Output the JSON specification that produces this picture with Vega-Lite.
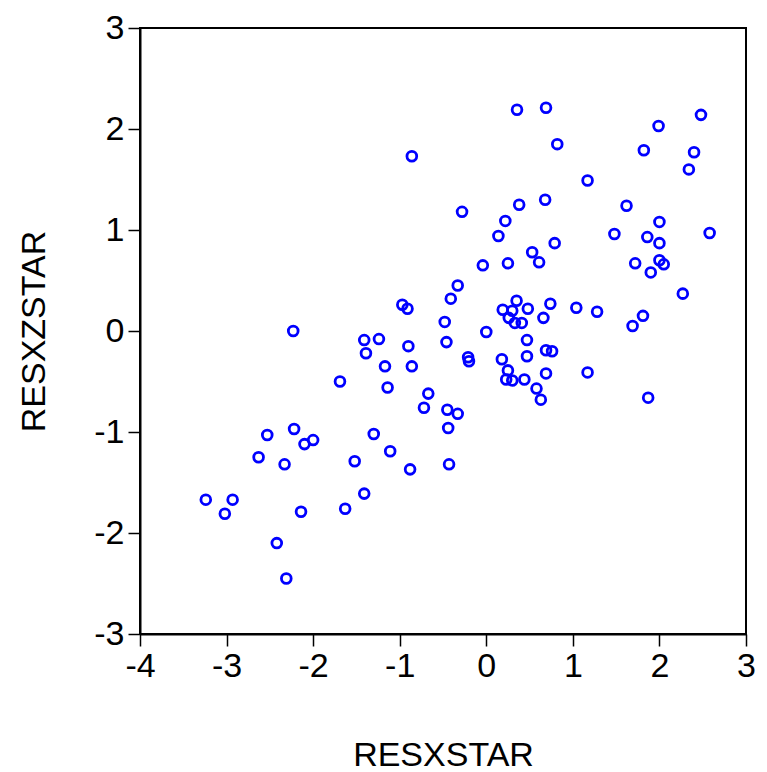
{
  "$schema": "https://vega.github.io/schema/vega-lite/v6.json",
  "width": 606,
  "height": 606,
  "autosize": "none",
  "padding": {"left": 140, "top": 28, "right": 21, "bottom": 138},
  "background": "white",
  "config": {
    "view": {"stroke": "black", "strokeWidth": 2},
    "font": "Liberation Sans",
    "axis": {
      "grid": false,
      "domainColor": "black",
      "domainWidth": 2,
      "tickColor": "black",
      "tickWidth": 1.5,
      "tickSize": 12,
      "labelColor": "black",
      "labelFont": "Liberation Sans",
      "labelFontSize": 34,
      "labelExpr": "toString(datum.value)",
      "titleFont": "Liberation Sans",
      "titleFontSize": 34,
      "titleFontWeight": "normal",
      "titleColor": "black",
      "labelOverlap": false,
      "labelFlush": false
    }
  },
  "data": {
    "values": [
      {"x": -2.23, "y": 0.0}, {"x": -1.41, "y": -0.09}, {"x": -1.24, "y": -0.08}, {"x": -1.39, "y": -0.22},
      {"x": -1.17, "y": -0.35}, {"x": -1.69, "y": -0.5}, {"x": -1.3, "y": -1.02}, {"x": -2.22, "y": -0.97},
      {"x": -2.53, "y": -1.03}, {"x": -2.0, "y": -1.08}, {"x": -2.1, "y": -1.12}, {"x": -2.63, "y": -1.25},
      {"x": -2.33, "y": -1.32}, {"x": -1.52, "y": -1.29}, {"x": -1.41, "y": -1.61}, {"x": -3.24, "y": -1.67},
      {"x": -2.93, "y": -1.67}, {"x": -3.02, "y": -1.81}, {"x": -2.14, "y": -1.79}, {"x": -1.63, "y": -1.76},
      {"x": -2.42, "y": -2.1}, {"x": -2.31, "y": -2.45}, {"x": 0.355, "y": 2.19}, {"x": 0.69, "y": 2.21},
      {"x": 0.82, "y": 1.85}, {"x": -0.86, "y": 1.73}, {"x": 0.38, "y": 1.25}, {"x": 0.68, "y": 1.3},
      {"x": -0.28, "y": 1.18}, {"x": 0.22, "y": 1.09}, {"x": 0.14, "y": 0.94}, {"x": 0.79, "y": 0.87},
      {"x": 0.53, "y": 0.78}, {"x": 0.61, "y": 0.68}, {"x": -0.04, "y": 0.65}, {"x": 0.25, "y": 0.67},
      {"x": -0.33, "y": 0.45}, {"x": -0.41, "y": 0.32}, {"x": -0.97, "y": 0.26}, {"x": -0.91, "y": 0.22},
      {"x": -0.48, "y": 0.09}, {"x": 0.19, "y": 0.21}, {"x": 0.35, "y": 0.3}, {"x": 0.3, "y": 0.2},
      {"x": 0.48, "y": 0.22}, {"x": 0.74, "y": 0.27}, {"x": 1.04, "y": 0.23}, {"x": 0.26, "y": 0.13},
      {"x": 0.33, "y": 0.08}, {"x": 0.41, "y": 0.08}, {"x": 0.66, "y": 0.13}, {"x": 0.0, "y": -0.01},
      {"x": -0.9, "y": -0.15}, {"x": -0.46, "y": -0.11}, {"x": 0.47, "y": -0.09}, {"x": 0.69, "y": -0.19},
      {"x": 0.76, "y": -0.2}, {"x": 0.47, "y": -0.25}, {"x": 0.18, "y": -0.28}, {"x": -0.21, "y": -0.26},
      {"x": -0.2, "y": -0.3}, {"x": -0.86, "y": -0.35}, {"x": 0.25, "y": -0.39}, {"x": 0.69, "y": -0.42},
      {"x": 0.23, "y": -0.48}, {"x": 0.3, "y": -0.49}, {"x": 0.44, "y": -0.48}, {"x": 0.58, "y": -0.57},
      {"x": 0.63, "y": -0.68}, {"x": -1.14, "y": -0.56}, {"x": -0.67, "y": -0.62}, {"x": -0.72, "y": -0.76},
      {"x": -0.45, "y": -0.78}, {"x": -0.33, "y": -0.82}, {"x": -0.44, "y": -0.96}, {"x": -1.11, "y": -1.19},
      {"x": -0.88, "y": -1.37}, {"x": -0.43, "y": -1.32}, {"x": 2.48, "y": 2.14}, {"x": 1.99, "y": 2.03},
      {"x": 1.82, "y": 1.79}, {"x": 2.4, "y": 1.77}, {"x": 2.34, "y": 1.6}, {"x": 1.17, "y": 1.49},
      {"x": 1.62, "y": 1.24}, {"x": 2.0, "y": 1.08}, {"x": 1.48, "y": 0.96}, {"x": 1.86, "y": 0.93},
      {"x": 2.0, "y": 0.87}, {"x": 2.58, "y": 0.97}, {"x": 1.72, "y": 0.67}, {"x": 2.0, "y": 0.7},
      {"x": 2.05, "y": 0.66}, {"x": 1.9, "y": 0.58}, {"x": 2.27, "y": 0.37}, {"x": 1.28, "y": 0.19},
      {"x": 1.81, "y": 0.15}, {"x": 1.69, "y": 0.05}, {"x": 1.17, "y": -0.41}, {"x": 1.87, "y": -0.66}
    ]
  },
  "mark": {"type": "point", "shape": "circle", "filled": false, "stroke": "#0000FF", "strokeWidth": 2.8, "size": 95, "opacity": 1},
  "encoding": {
    "x": {
      "field": "x", "type": "quantitative",
      "scale": {"domain": [-4, 3], "nice": false, "zero": false},
      "axis": {"values": [-4, -3, -2, -1, 0, 1, 2, 3], "title": "RESXSTAR", "labelPadding": 3, "titleBaseline": "alphabetic", "titleY": 131}
    },
    "y": {
      "field": "y", "type": "quantitative",
      "scale": {"domain": [-3, 3], "nice": false, "zero": false},
      "axis": {"values": [-3, -2, -1, 0, 1, 2, 3], "title": "RESXZSTAR", "labelPadding": 4, "titleBaseline": "alphabetic", "titleX": -96, "titleAngle": -90}
    }
  }
}
